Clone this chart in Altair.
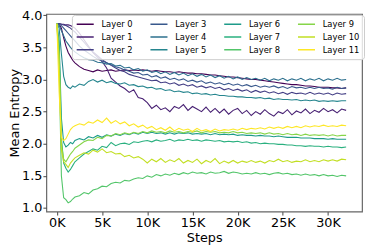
import altair as alt
import pandas as pd

steps = [0, 250, 500, 750, 1000, 1250, 1500, 1750, 2000, 2500, 3000, 3500, 4000, 4500, 5000,
         5500, 6000, 6500, 7000, 7500, 8000, 8500, 9000, 9500, 10000, 10500, 11000, 11500,
         12000, 12500, 13000, 13500, 14000, 14500, 15000, 15500, 16000, 16500, 17000, 17500,
         18000, 18500, 19000, 19500, 20000, 20500, 21000, 21500, 22000, 22500, 23000, 23500,
         24000, 24500, 25000, 25500, 26000, 26500, 27000, 27500, 28000, 28500, 29000, 29500,
         30000, 30500, 31000, 31500, 32000]

layer_0 = [3.87, 3.86, 3.80, 3.65, 3.52, 3.42, 3.36, 3.30, 3.26, 3.20, 3.16, 3.14, 3.12, 3.15, 3.13,
           3.14, 3.15, 3.13, 3.14, 3.15, 3.14, 3.15, 3.14, 3.15, 3.14, 3.13, 3.14, 3.13,
           3.12, 3.12, 3.11, 3.12, 3.11, 3.10, 3.10, 3.09, 3.09, 3.08, 3.07, 3.07,
           3.06, 3.05, 3.04, 3.04, 3.03, 3.02, 3.01, 3.00, 3.00, 2.99, 2.98, 2.97,
           2.96, 2.95, 2.94, 2.93, 2.92, 2.92, 2.91, 2.90, 2.90, 2.89, 2.88, 2.88,
           2.88, 2.87, 2.87, 2.86, 2.87]
layer_1 = [3.87, 3.87, 3.86, 3.86, 3.85, 3.85, 3.84, 3.82, 3.80, 3.72, 3.62, 3.52, 3.42, 3.35, 3.28,
           3.18, 3.02, 2.96, 2.90, 2.86, 2.80, 2.84, 2.72, 2.70, 2.64, 2.55, 2.60, 2.53,
           2.56, 2.50, 2.58, 2.55, 2.61, 2.52, 2.58, 2.54, 2.50, 2.57, 2.49, 2.55,
           2.48, 2.54, 2.46, 2.52, 2.55, 2.47, 2.52, 2.44, 2.50, 2.46, 2.53, 2.47,
           2.43, 2.50, 2.47, 2.53, 2.45, 2.51, 2.48, 2.54, 2.47, 2.52, 2.49, 2.55,
           2.50, 2.53, 2.48, 2.54, 2.52]
layer_2 = [3.87, 3.87, 3.86, 3.85, 3.84, 3.82, 3.80, 3.77, 3.74, 3.66, 3.58, 3.50, 3.43, 3.37, 3.31,
           3.26, 3.22, 3.18, 3.14, 3.12, 3.08, 3.06, 3.04, 3.02, 3.00, 2.98, 2.99, 2.95,
           2.96, 2.93, 2.95, 2.91, 2.93, 2.90, 2.92, 2.88, 2.90, 2.87, 2.89, 2.86,
           2.88, 2.84, 2.86, 2.83, 2.85, 2.82, 2.84, 2.80, 2.83, 2.80, 2.82, 2.79,
           2.81, 2.78, 2.80, 2.77, 2.80, 2.78, 2.79, 2.77, 2.80, 2.77, 2.79, 2.77,
           2.79, 2.76, 2.79, 2.77, 2.78]
layer_3 = [3.87, 3.86, 3.84, 3.80, 3.76, 3.72, 3.68, 3.64, 3.60, 3.52, 3.46, 3.41, 3.36, 3.32, 3.29,
           3.26, 3.23, 3.20, 3.18, 3.15, 3.13, 3.10, 3.11, 3.07, 3.08, 3.04, 3.06, 3.02,
           3.04, 3.00, 3.02, 2.99, 3.01, 2.97, 2.99, 2.96, 2.98, 2.94, 2.96, 2.93,
           2.95, 2.92, 2.94, 2.91, 2.93, 2.90, 2.92, 2.89, 2.91, 2.88, 2.90, 2.88,
           2.90, 2.87, 2.89, 2.86, 2.89, 2.87, 2.88, 2.86, 2.88, 2.86, 2.88, 2.86,
           2.87, 2.85, 2.88, 2.86, 2.87]
layer_4 = [3.87, 3.84, 3.76, 3.68, 3.60, 3.55, 3.50, 3.46, 3.43, 3.38, 3.34, 3.31, 3.30, 3.27, 3.26,
           3.24, 3.25, 3.21, 3.22, 3.18, 3.19, 3.15, 3.17, 3.13, 3.15, 3.11, 3.13, 3.09,
           3.12, 3.08, 3.11, 3.07, 3.10, 3.06, 3.09, 3.05, 3.08, 3.04, 3.07, 3.03,
           3.06, 3.02, 3.05, 3.01, 3.04, 3.00, 3.03, 3.00, 3.02, 2.99, 3.02, 2.98,
           3.01, 2.99, 3.02, 2.98, 3.01, 2.99, 3.02, 2.98, 3.01, 2.99, 3.02, 2.98,
           3.01, 2.99, 3.02, 2.99, 3.00]
layer_5 = [3.87, 3.80, 3.40, 3.05, 2.92, 2.88, 2.86, 2.90, 2.88, 2.93, 2.91, 2.97, 3.00, 2.96, 2.99,
           2.95, 2.97, 2.94, 2.93, 2.95, 2.91, 2.92, 2.89, 2.90, 2.87, 2.88, 2.85, 2.86,
           2.83, 2.84, 2.81, 2.82, 2.80, 2.81, 2.78, 2.79, 2.77, 2.78, 2.76, 2.77,
           2.75, 2.75, 2.74, 2.74, 2.73, 2.73, 2.72, 2.72, 2.71, 2.72, 2.70, 2.71,
           2.69, 2.70, 2.69, 2.69, 2.68, 2.69, 2.67, 2.68, 2.67, 2.68, 2.66, 2.67,
           2.66, 2.67, 2.66, 2.67, 2.67]
layer_6 = [3.87, 3.60, 2.40, 2.02, 1.95, 1.98, 2.02, 2.00, 2.05, 2.08, 2.06, 2.11, 2.09, 2.13, 2.10,
           2.14, 2.12, 2.15, 2.13, 2.16, 2.14, 2.17, 2.15, 2.18, 2.16, 2.18, 2.16, 2.17,
           2.15, 2.17, 2.15, 2.17, 2.16, 2.17, 2.15, 2.16, 2.15, 2.16, 2.14, 2.16,
           2.14, 2.15, 2.14, 2.15, 2.13, 2.14, 2.13, 2.13, 2.12, 2.13, 2.12, 2.12,
           2.11, 2.12, 2.11, 2.10, 2.10, 2.10, 2.09, 2.09, 2.09, 2.08, 2.08, 2.08,
           2.07, 2.08, 2.07, 2.07, 2.07]
layer_7 = [3.87, 3.50, 2.10, 1.70, 1.62, 1.56, 1.60, 1.66, 1.72, 1.78, 1.84, 1.88, 1.92, 1.90, 1.96,
           1.94, 2.02, 1.97, 2.00, 2.01, 1.99, 2.03, 2.02, 2.04, 2.05, 2.03, 2.06, 2.04,
           2.05, 2.07, 2.04, 2.06, 2.05, 2.07, 2.05, 2.06, 2.04, 2.06, 2.05, 2.04,
           2.05, 2.03, 2.04, 2.03, 2.04, 2.02, 2.03, 2.01, 2.02, 2.00, 2.01, 2.00,
           2.00, 1.99, 1.99, 1.98, 1.98, 1.97, 1.97, 1.96, 1.97, 1.96, 1.96, 1.95,
           1.96, 1.95, 1.95, 1.94, 1.95]
layer_8 = [3.87, 3.20, 1.50, 1.16, 1.13, 1.08, 1.10, 1.14, 1.17, 1.19, 1.24, 1.22, 1.28, 1.30, 1.34,
           1.33, 1.38, 1.40, 1.39, 1.43, 1.42, 1.45, 1.47, 1.46, 1.50, 1.48, 1.52, 1.50,
           1.53, 1.51, 1.54, 1.52, 1.55, 1.53, 1.56, 1.54, 1.55, 1.53, 1.56, 1.54,
           1.55, 1.57, 1.54, 1.56, 1.55, 1.53, 1.54, 1.53, 1.55, 1.53, 1.54, 1.52,
           1.54, 1.55, 1.53, 1.54, 1.52, 1.53, 1.51, 1.53, 1.51, 1.52, 1.50, 1.52,
           1.50, 1.51, 1.49, 1.51, 1.50]
layer_9 = [3.87, 3.40, 2.00, 1.76, 1.72, 1.78, 1.84, 1.88, 1.93, 1.98, 2.03, 2.06, 2.05, 2.10, 2.08,
           2.13, 2.12, 2.16, 2.14, 2.17, 2.15, 2.18, 2.16, 2.19, 2.17, 2.20, 2.18, 2.19,
           2.17, 2.20, 2.18, 2.19, 2.17, 2.19, 2.18, 2.20, 2.17, 2.19, 2.18, 2.19,
           2.17, 2.18, 2.17, 2.19, 2.17, 2.18, 2.16, 2.17, 2.16, 2.17, 2.15, 2.17,
           2.15, 2.16, 2.14, 2.16, 2.14, 2.15, 2.13, 2.15, 2.13, 2.14, 2.13, 2.14,
           2.12, 2.14, 2.12, 2.13, 2.13]
layer_10 = [3.87, 3.30, 1.90, 1.72, 1.68, 1.63, 1.70, 1.74, 1.78, 1.82, 1.86, 1.84, 1.90, 1.87, 1.92,
            1.86, 1.88, 1.84, 1.85, 1.80, 1.82, 1.78, 1.80, 1.76, 1.70, 1.76, 1.72, 1.77,
            1.71, 1.75, 1.72, 1.77, 1.70, 1.74, 1.71, 1.76, 1.69, 1.74, 1.71, 1.77,
            1.69, 1.73, 1.70, 1.74, 1.70, 1.73, 1.71, 1.74, 1.71, 1.73, 1.70, 1.74,
            1.72, 1.76, 1.72, 1.74, 1.71, 1.73, 1.72, 1.75, 1.72, 1.74, 1.72, 1.75,
            1.73, 1.75, 1.73, 1.76, 1.75]
layer_11 = [3.87, 2.80, 2.10, 2.05, 2.08, 2.15, 2.22, 2.26, 2.28, 2.31, 2.29, 2.34, 2.32, 2.37, 2.33,
            2.40, 2.32, 2.36, 2.31, 2.34, 2.28, 2.31, 2.26, 2.29, 2.24, 2.27, 2.22, 2.25,
            2.21, 2.26, 2.20, 2.24, 2.21, 2.23, 2.19, 2.24, 2.20, 2.22, 2.19, 2.23,
            2.20, 2.22, 2.21, 2.23, 2.21, 2.24, 2.22, 2.24, 2.23, 2.25, 2.23, 2.26,
            2.24, 2.26, 2.24, 2.27, 2.25, 2.27, 2.25, 2.28, 2.26, 2.28, 2.27, 2.29,
            2.27, 2.28, 2.27, 2.29, 2.28]

layer_names = ["Layer %d" % i for i in range(12)]
series = [layer_0, layer_1, layer_2, layer_3, layer_4, layer_5,
          layer_6, layer_7, layer_8, layer_9, layer_10, layer_11]
colors = ["#440154", "#482173", "#433e85", "#38588c", "#2d708e", "#25858e",
          "#1e9b8a", "#2ab07f", "#52c569", "#86d549", "#c2df23", "#fde725"]
x_ticks = [0, 5000, 10000, 15000, 20000, 25000, 30000]
y_ticks = [1.0, 1.5, 2.0, 2.5, 3.0, 3.5, 4.0]

rows = []
for name, vals in zip(layer_names, series):
    for s, v in zip(steps, vals):
        rows.append({"Steps": s, "Entropy": v, "Layer": name})
df = pd.DataFrame(rows)

font = "DejaVu Sans"

chart = alt.Chart(df).mark_line(strokeWidth=1.1).encode(
    x=alt.X("Steps:Q",
            scale=alt.Scale(domain=[-1164, 33760], nice=False, zero=False),
            axis=alt.Axis(values=x_ticks, labelExpr="datum.value / 1000 + 'K'",
                          title="Steps", grid=False, domain=False,
                          tickSize=3.5, tickColor="#444", labelPadding=2,
                          titlePadding=2)),
    y=alt.Y("Entropy:Q",
            scale=alt.Scale(domain=[0.944, 4.021], nice=False, zero=False),
            axis=alt.Axis(values=y_ticks, format=".1f", title="Mean Entropy",
                          grid=False, domain=False, tickSize=3.5, tickColor="#444",
                          labelPadding=1, titlePadding=0)),
    color=alt.Color("Layer:N",
                    scale=alt.Scale(domain=layer_names, range=colors),
                    legend=alt.Legend(values=layer_names, columns=4, orient="none",
                                      legendX=26, legendY=1, title=None,
                                      symbolType="stroke", symbolSize=300,
                                      symbolStrokeWidth=1.5, clipHeight=11,
                                      rowPadding=2, columnPadding=17,
                                      labelOffset=7, labelFontSize=8.5,
                                      labelFont=font, labelColor="black",
                                      padding=4, fillColor="rgba(255,255,255,0.8)",
                                      strokeColor="#cccccc", cornerRadius=3)),
).properties(
    width=321, height=201,
    autosize=alt.AutoSizeParams(type="none"),
    padding={"left": 39, "top": 4, "right": 3, "bottom": 36},
).configure_view(
    stroke="#666666", strokeWidth=1.2
).configure_axis(
    labelFont=font, titleFont=font, labelFontSize=13, titleFontSize=13,
    labelColor="black", titleColor="black", titleFontWeight="normal"
)

chart.save("out.html", embed_options={"renderer": "svg", "actions": False})
